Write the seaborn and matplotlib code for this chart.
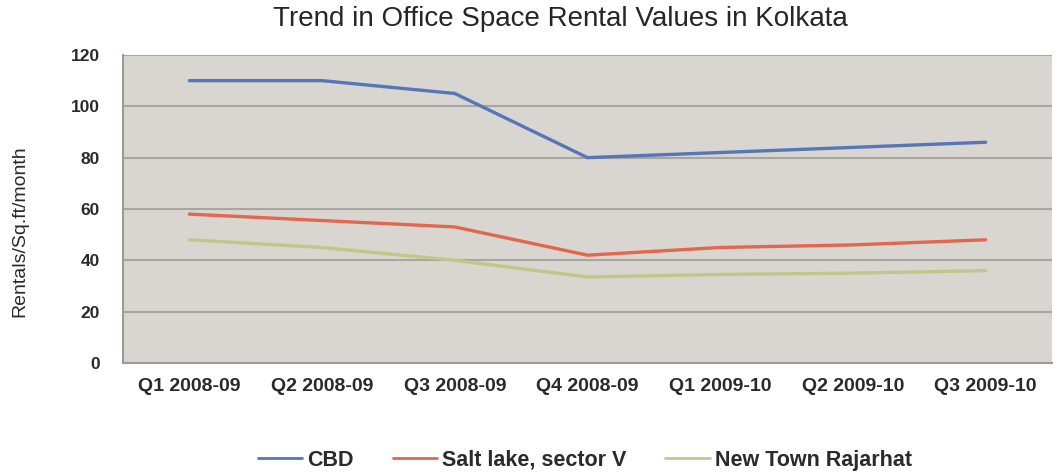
import numpy as np
import pandas as pd
import matplotlib
matplotlib.use("Agg")
import matplotlib.pyplot as plt
import seaborn as sns

quarters = ["Q1 2008-09", "Q2 2008-09", "Q3 2008-09", "Q4 2008-09",
            "Q1 2009-10", "Q2 2009-10", "Q3 2009-10"]
cbd = [110, 110, 105, 80, 82, 84, 86]
salt_lake = [58, 55.5, 53, 42, 45, 46, 48]
new_town = [48, 45, 40, 33.5, 34.5, 35, 36]
series_names = ["CBD", "Salt lake, sector V", "New Town Rajarhat"]
colors = ["#5577B8", "#E2674C", "#C2C787"]

df = pd.DataFrame({
    "quarter_idx": np.tile(np.arange(len(quarters)), 3),
    "value": cbd + salt_lake + new_town,
    "series": np.repeat(series_names, len(quarters)),
})

sns.set_style("white")
plt.rcParams["font.family"] = ["Liberation Sans", "DejaVu Sans"]

fig = plt.figure(figsize=(10.57, 4.76), dpi=100)
ax = fig.add_axes([0.1164, 0.2374, 0.8789, 0.6471])
ax.set_facecolor("#D9D5D0")

sns.lineplot(data=df, x="quarter_idx", y="value", hue="series",
             hue_order=series_names, palette=colors, linewidth=2.4,
             ax=ax, legend=False, zorder=3)

ax.set_xlim(-0.5, len(quarters) - 0.5)
ax.set_ylim(0, 120)
ax.set_yticks(np.arange(0, 121, 20))
ax.yaxis.grid(True, color="#A9A5A1", linewidth=1.5, zorder=1)
ax.xaxis.grid(False)
ax.set_axisbelow(True)

ax.set_xticks(np.arange(len(quarters)))
ax.set_xticklabels(quarters, fontsize=14, fontweight="bold", color="#2A2A2A")
ax.set_xticks(np.arange(-0.5, len(quarters), 1.0), minor=True)
ax.tick_params(axis="x", which="major", length=0, pad=11)
ax.tick_params(axis="x", which="minor", length=5, color="#A0A0A0", width=1)
ax.tick_params(axis="y", length=4.5, color="#A0A0A0", width=1, labelsize=12.5,
               pad=12, labelcolor="#2A2A2A")
for lbl in ax.get_yticklabels():
    lbl.set_fontweight("bold")

for side in ["top", "right"]:
    ax.spines[side].set_visible(False)
for side in ["left", "bottom"]:
    ax.spines[side].set_color("#9E9A96")
    ax.spines[side].set_linewidth(1.5)

ax.set_xlabel("")
ax.set_ylabel("Rentals/Sq.ft/month", fontsize=14, color="#2A2A2A")
ax.yaxis.set_label_coords(-0.102, 0.4286)

fig.text(0.53, 0.945, "Trend in Office Space Rental Values in Kolkata",
         ha="center", va="baseline", fontsize=20, color="#262626")

handles = [plt.Line2D([0], [0], color=c, linewidth=2.0) for c in colors]
leg = fig.legend(handles, series_names, loc="center", bbox_to_anchor=(0.5535, 0.0326),
                 ncol=3, frameon=False, handlelength=2.05, handletextpad=0.25,
                 columnspacing=1.8, borderpad=0,
                 prop={"size": 15.5, "weight": "bold"})
for t in leg.get_texts():
    t.set_color("#2A2A2A")

fig.savefig("out.png", dpi=100, facecolor="white")
